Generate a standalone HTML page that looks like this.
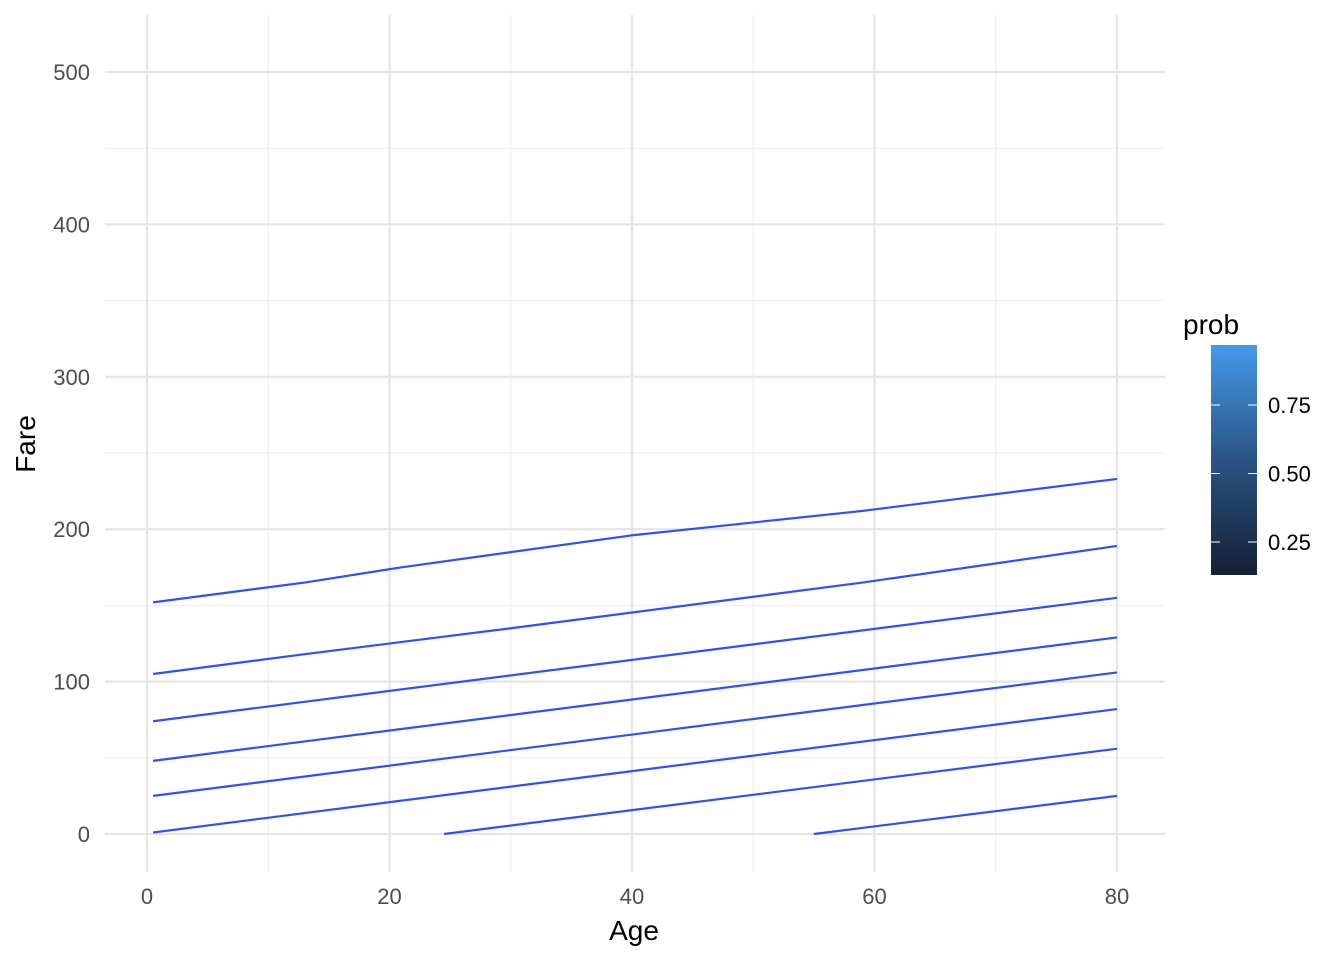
<!DOCTYPE html>
<html><head><meta charset="utf-8"><style>body{margin:0;background:#fff}svg{display:block;font-family:"Liberation Sans",Arial,sans-serif}</style></head>
<body>
<svg id="c" width="1344" height="960">
<defs><linearGradient id="g" x1="0" y1="1" x2="0" y2="0"><stop offset="0" stop-color="#132035"/><stop offset="0.5" stop-color="#2a5384"/><stop offset="1" stop-color="#4599ea"/></linearGradient></defs>
</svg>
<script>
const xTicks=[0,20,40,60,80];
const xMinor=[10,30,50,70];
const yTicks=[0,100,200,300,400,500];
const yMinor=[50,150,250,350,450];
const legendTicks=[0.25,0.5,0.75];
const line1=[[0.5,152],[13,165],[21,175],[40,196],[59,212],[80,233]];
const line2=[[0.5,105],[13,118],[30,135],[59,165],[80,189]];
const line3=[[0.5,74],[80,155]];
const line4=[[0.5,48],[80,129]];
const line5=[[0.5,25],[80,106]];
const line6=[[0.5,1],[80,82]];
const line7=[[24.5,0],[80,56]];
const line8=[[55,0],[80,25]];
const lines=[line1,line2,line3,line4,line5,line6,line7,line8];
const X=v=>147+v*12.125, Y=v=>834-v*1.524;
const L=p=>345+(0.969-p)*274;
const svg=document.getElementById('c'),NS='http://www.w3.org/2000/svg';
function mk(t,a,txt){const e=document.createElementNS(NS,t);for(const k in a)e.setAttribute(k,a[k]);if(txt!==undefined)e.textContent=txt;svg.appendChild(e);return e;}
const x0=105,x1=1165,y0=15,y1=872;
xMinor.forEach(v=>{const e=mk('line',{x1:X(v),x2:X(v),y1:y0,y2:y1,stroke:'#ebebeb','stroke-width':1});});
yMinor.forEach(v=>{const e=mk('line',{x1:x0,x2:x1,y1:Y(v),y2:Y(v),stroke:'#ebebeb','stroke-width':1});});
xTicks.forEach(v=>{const e=mk('line',{x1:X(v),x2:X(v),y1:y0,y2:y1,stroke:'#e5e5e5','stroke-width':2.2});
const t=mk('text',{x:X(v),y:904,'text-anchor':'middle','font-size':22,fill:'#4d4d4d'},v);});
yTicks.forEach(v=>{const e=mk('line',{x1:x0,x2:x1,y1:Y(v),y2:Y(v),stroke:'#e5e5e5','stroke-width':2.2});
const t=mk('text',{x:90,y:Y(v)+8,'text-anchor':'end','font-size':22,fill:'#4d4d4d'},v);});
lines.forEach(l=>{const e=mk('polyline',{points:l.map(p=>X(p[0])+','+Y(p[1])).join(' '),fill:'none',stroke:'#3050f5','stroke-width':2.2});});
let t=mk('text',{x:634,y:940,'text-anchor':'middle','font-size':28,fill:'#000'},'Age');
t=mk('text',{x:35,y:444,'text-anchor':'middle','font-size':28,fill:'#000',transform:'rotate(-90 35 444)'},'Fare');
t=mk('text',{x:1183,y:334,'font-size':28,fill:'#000'},'prob');
let r=mk('rect',{x:1211,y:345,width:46,height:230,fill:'url(#g)'});
legendTicks.forEach(v=>{const y=L(v);
let a=mk('line',{x1:1211,x2:1220,y1:y,y2:y,stroke:'#fff','stroke-width':1});
a=mk('line',{x1:1248,x2:1257,y1:y,y2:y,stroke:'#fff','stroke-width':1});
const s=mk('text',{x:1268,y:y+8,'font-size':22,fill:'#000'},v.toFixed(2));});
</script>
</body></html>
